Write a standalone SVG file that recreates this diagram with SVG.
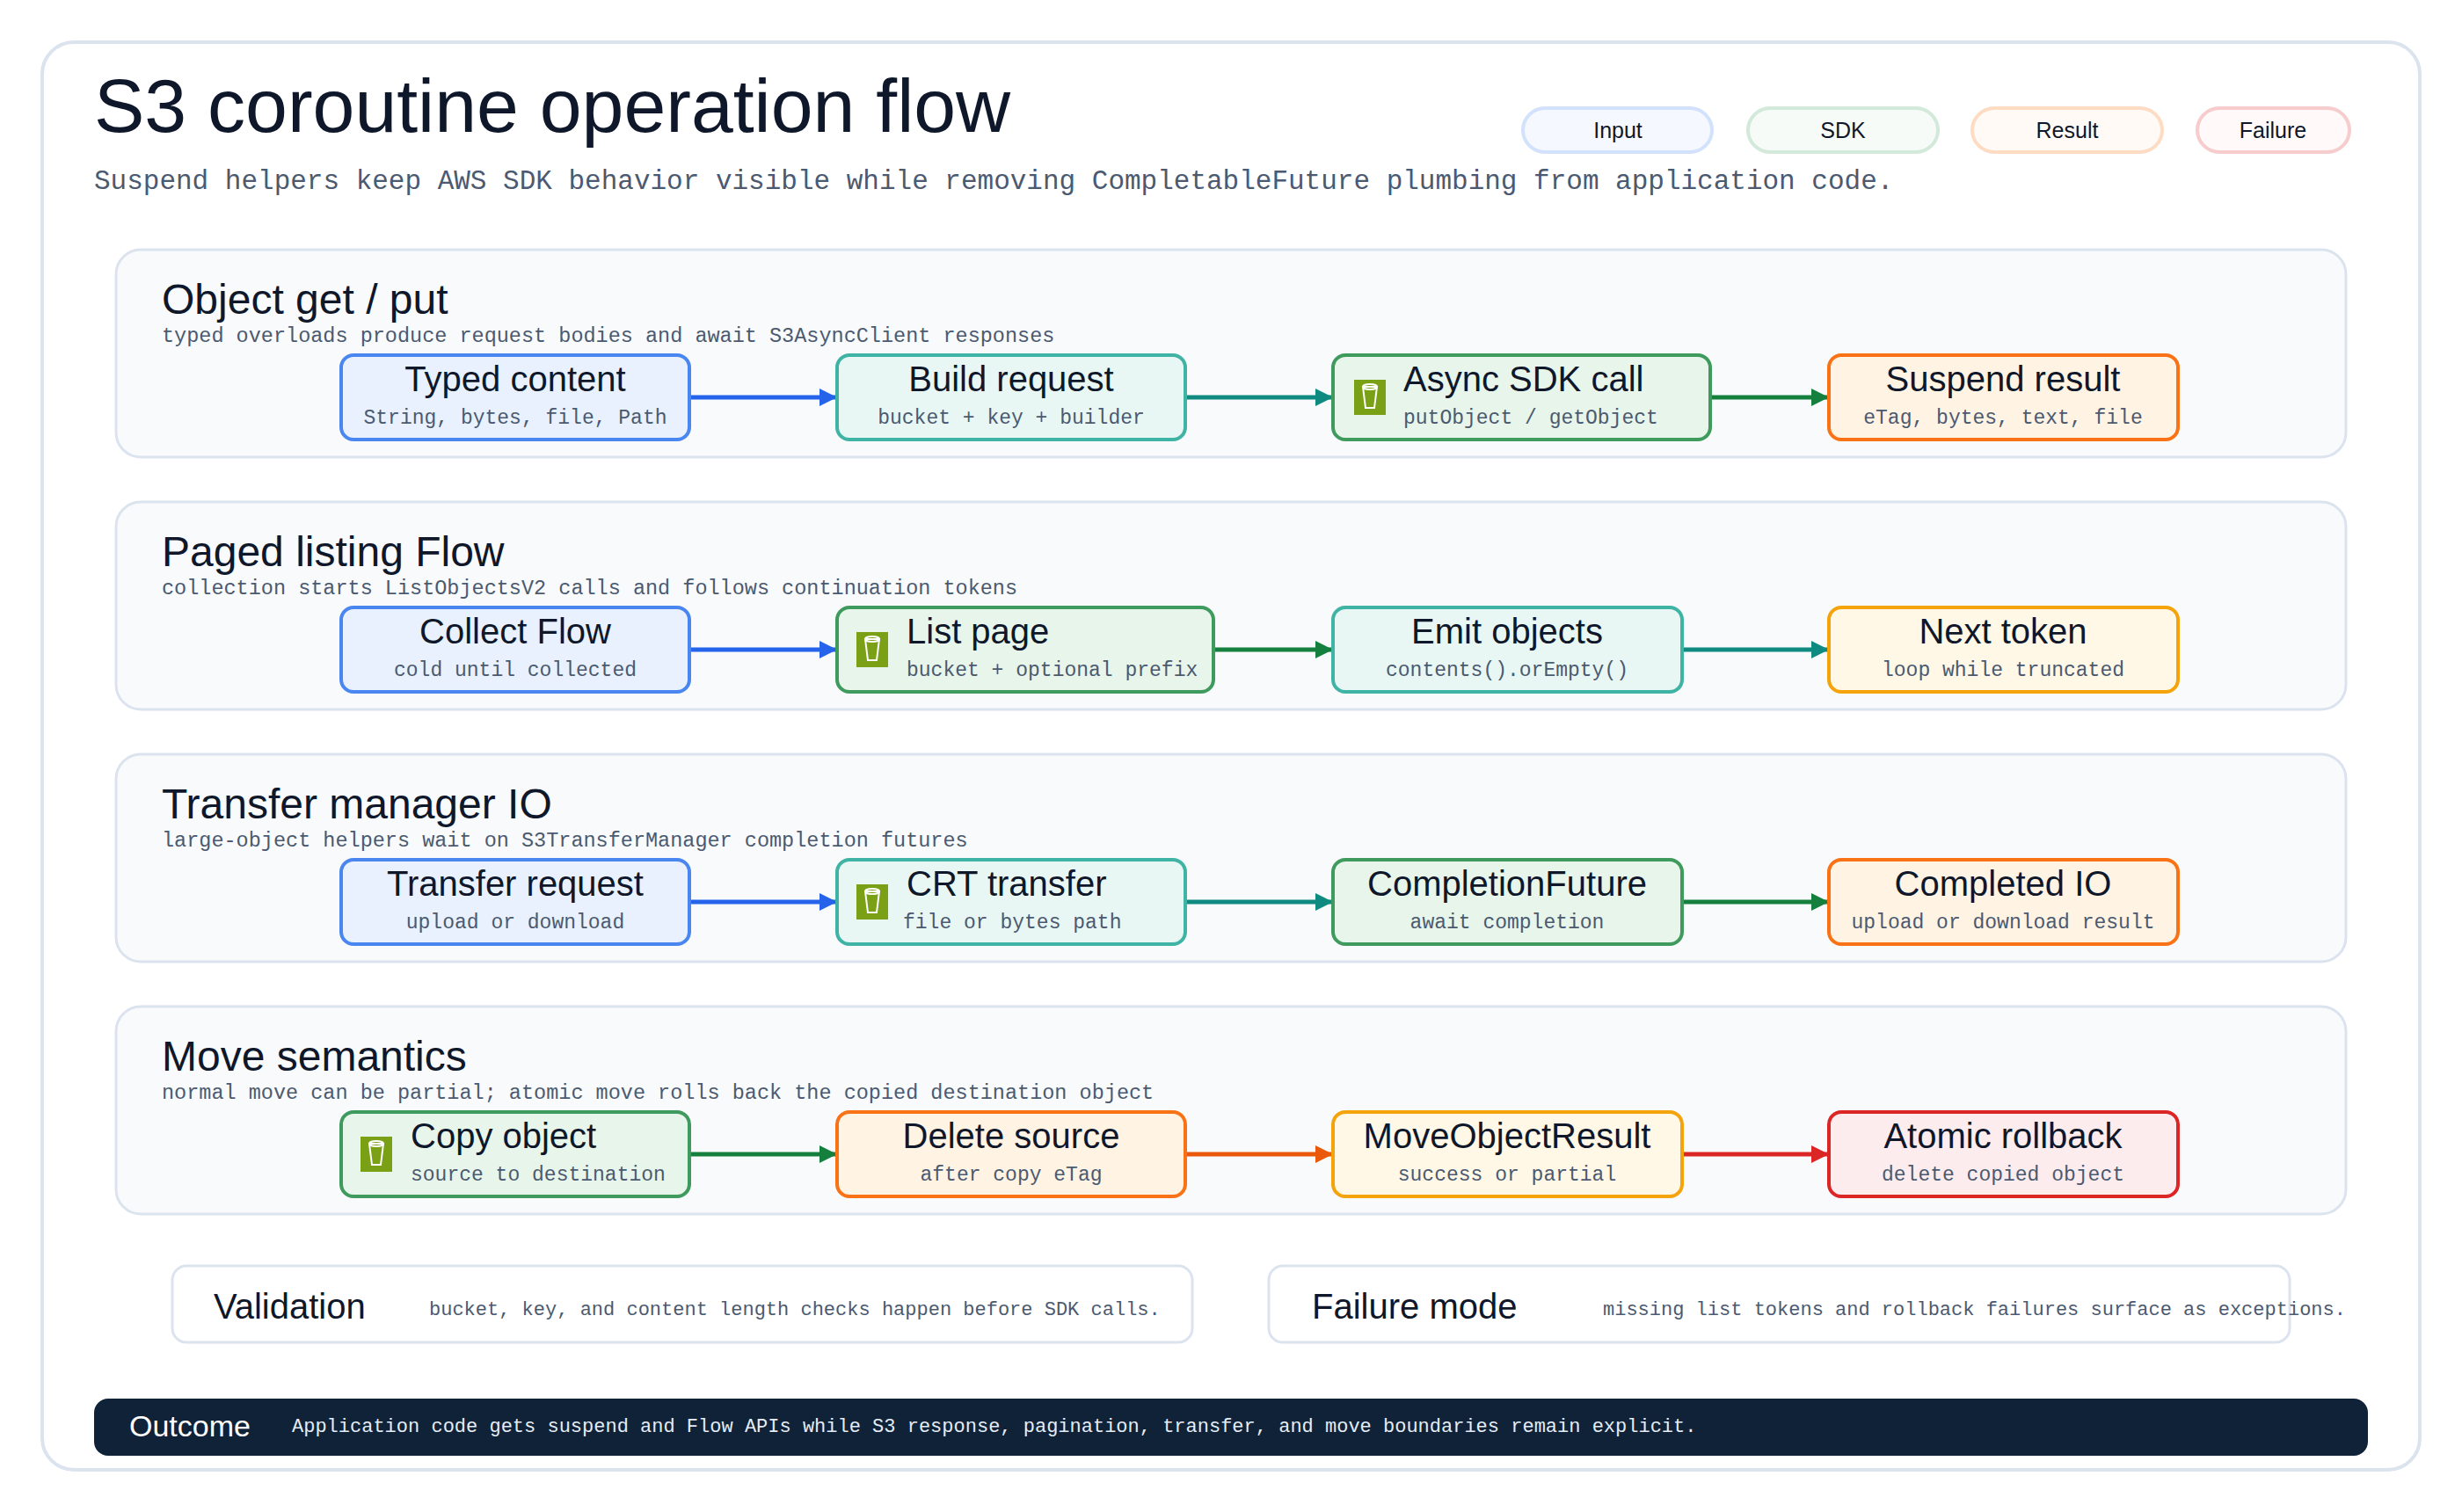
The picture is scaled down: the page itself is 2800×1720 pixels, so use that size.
<svg xmlns="http://www.w3.org/2000/svg" width="2800" height="1720" viewBox="0 0 2800 1720">
<defs>
<style>
.hand{font-family:"Liberation Sans","DejaVu Sans",sans-serif;fill:#0f172a}
.mono{font-family:"Liberation Mono","DejaVu Sans Mono",monospace;fill:#4b5a70}
.lane{fill:#f8fafc;stroke:#dbe3ee;stroke-width:3}
.nt{font-size:40px;text-anchor:middle}
.ns{font-size:23px;text-anchor:middle}
.b{fill:#e8f1fd;stroke:#4a86f0;stroke-width:4}
.t{fill:#e9f7f4;stroke:#3fb3a4;stroke-width:4}
.g{fill:#e8f5ea;stroke:#3f9a5e;stroke-width:4}
.o{fill:#fff3e4;stroke:#f97316;stroke-width:4}
.a{fill:#fff8e6;stroke:#f5a30b;stroke-width:4}
.r{fill:#fdecee;stroke:#dc2626;stroke-width:4}
.c{stroke-width:5;fill:none}
</style>
<marker id="mb" viewBox="0 0 10 10" refX="9" refY="5" markerWidth="4" markerHeight="4" orient="auto"><path d="M0,0L10,5L0,10z" fill="#2563eb"/></marker>
<marker id="mt" viewBox="0 0 10 10" refX="9" refY="5" markerWidth="4" markerHeight="4" orient="auto"><path d="M0,0L10,5L0,10z" fill="#0f8a80"/></marker>
<marker id="mg" viewBox="0 0 10 10" refX="9" refY="5" markerWidth="4" markerHeight="4" orient="auto"><path d="M0,0L10,5L0,10z" fill="#15803d"/></marker>
<marker id="mo" viewBox="0 0 10 10" refX="9" refY="5" markerWidth="4" markerHeight="4" orient="auto"><path d="M0,0L10,5L0,10z" fill="#ea580c"/></marker>
<marker id="mr" viewBox="0 0 10 10" refX="9" refY="5" markerWidth="4" markerHeight="4" orient="auto"><path d="M0,0L10,5L0,10z" fill="#dc2626"/></marker>
<g id="bucket"><rect x="0" y="-20" width="36" height="40" fill="#7aa116"/><path d="M10,-12h16l-3,24h-10z" fill="none" stroke="#fff" stroke-width="2"/><ellipse cx="18" cy="-12" rx="8" ry="3" fill="none" stroke="#fff" stroke-width="2"/></g>
</defs>
<rect width="2800" height="1720" fill="#fff"/>
<rect x="48" y="48" width="2704" height="1624" rx="36" fill="#fff" stroke="#dbe3ee" stroke-width="4"/>
<text x="107" y="150" class="hand" font-size="86">S3 coroutine operation flow</text>
<text x="107" y="215" class="mono" font-size="31">Suspend helpers keep AWS SDK behavior visible while removing CompletableFuture plumbing from application code.</text>
<g id="legend" font-family="Liberation Sans,sans-serif" font-size="25" text-anchor="middle" fill="#0f172a">
<rect x="1732" y="123" width="215" height="50" rx="25" fill="#f5f9ff" stroke="#d3e2fc" stroke-width="4"/><text x="1840" y="157">Input</text>
<rect x="1988" y="123" width="216" height="50" rx="25" fill="#f6fbf7" stroke="#d3e9da" stroke-width="4"/><text x="2096" y="157">SDK</text>
<rect x="2243" y="123" width="216" height="50" rx="25" fill="#fffaf5" stroke="#fddcc3" stroke-width="4"/><text x="2351" y="157">Result</text>
<rect x="2499" y="123" width="173" height="50" rx="25" fill="#fff9f9" stroke="#f6cccc" stroke-width="4"/><text x="2585" y="157">Failure</text>
</g>
<g id="lanes">
<rect class="lane" x="132" y="284" width="2536" height="236" rx="28"/>
<text x="184" y="357" class="hand" font-size="48">Object get / put</text>
<text x="184" y="389" class="mono" font-size="23.5">typed overloads produce request bodies and await S3AsyncClient responses</text>
<rect class="lane" x="132" y="571" width="2536" height="236" rx="28"/>
<text x="184" y="644" class="hand" font-size="48">Paged listing Flow</text>
<text x="184" y="676" class="mono" font-size="23.5">collection starts ListObjectsV2 calls and follows continuation tokens</text>
<rect class="lane" x="132" y="858" width="2536" height="236" rx="28"/>
<text x="184" y="931" class="hand" font-size="48">Transfer manager IO</text>
<text x="184" y="963" class="mono" font-size="23.5">large-object helpers wait on S3TransferManager completion futures</text>
<rect class="lane" x="132" y="1145" width="2536" height="236" rx="28"/>
<text x="184" y="1218" class="hand" font-size="48">Move semantics</text>
<text x="184" y="1250" class="mono" font-size="23.5">normal move can be partial; atomic move rolls back the copied destination object</text>
</g>
<g id="connectors">
<line class="c" stroke="#2563eb" marker-end="url(#mb)" x1="784" y1="452" x2="950" y2="452"/>
<line class="c" stroke="#0f8a80" marker-end="url(#mt)" x1="1348" y1="452" x2="1514" y2="452"/>
<line class="c" stroke="#15803d" marker-end="url(#mg)" x1="1945" y1="452" x2="2078" y2="452"/>
<line class="c" stroke="#2563eb" marker-end="url(#mb)" x1="784" y1="739" x2="950" y2="739"/>
<line class="c" stroke="#15803d" marker-end="url(#mg)" x1="1380" y1="739" x2="1514" y2="739"/>
<line class="c" stroke="#0f8a80" marker-end="url(#mt)" x1="1913" y1="739" x2="2078" y2="739"/>
<line class="c" stroke="#2563eb" marker-end="url(#mb)" x1="784" y1="1026" x2="950" y2="1026"/>
<line class="c" stroke="#0f8a80" marker-end="url(#mt)" x1="1348" y1="1026" x2="1514" y2="1026"/>
<line class="c" stroke="#15803d" marker-end="url(#mg)" x1="1913" y1="1026" x2="2078" y2="1026"/>
<line class="c" stroke="#15803d" marker-end="url(#mg)" x1="784" y1="1313" x2="950" y2="1313"/>
<line class="c" stroke="#ea580c" marker-end="url(#mo)" x1="1348" y1="1313" x2="1514" y2="1313"/>
<line class="c" stroke="#dc2626" marker-end="url(#mr)" x1="1913" y1="1313" x2="2078" y2="1313"/>
</g>
<g id="n1"><rect class="b" x="388" y="404" width="396" height="96" rx="14"/><text class="hand nt" x="586" y="445">Typed content</text><text class="mono ns" x="586" y="482">String, bytes, file, Path</text></g>
<g id="n2"><rect class="t" x="952" y="404" width="396" height="96" rx="14"/><text class="hand nt" x="1150" y="445">Build request</text><text class="mono ns" x="1150" y="482">bucket + key + builder</text></g>
<g id="n3"><rect class="g" x="1516" y="404" width="429" height="96" rx="14"/><use href="#bucket" x="1540" y="452"/><text class="hand" font-size="40" x="1596" y="445">Async SDK call</text><text class="mono" font-size="23" x="1596" y="482">putObject / getObject</text></g>
<g id="n4"><rect class="o" x="2080" y="404" width="397" height="96" rx="14"/><text class="hand nt" x="2278" y="445">Suspend result</text><text class="mono ns" x="2278" y="482">eTag, bytes, text, file</text></g>
<g id="n5"><rect class="b" x="388" y="691" width="396" height="96" rx="14"/><text class="hand nt" x="586" y="732">Collect Flow</text><text class="mono ns" x="586" y="769">cold until collected</text></g>
<g id="n6"><rect class="g" x="952" y="691" width="428" height="96" rx="14"/><use href="#bucket" x="974" y="739"/><text class="hand" font-size="40" x="1031" y="732">List page</text><text class="mono" font-size="23" x="1031" y="769">bucket + optional prefix</text></g>
<g id="n7"><rect class="t" x="1516" y="691" width="397" height="96" rx="14"/><text class="hand nt" x="1714" y="732">Emit objects</text><text class="mono ns" x="1714" y="769">contents().orEmpty()</text></g>
<g id="n8"><rect class="a" x="2080" y="691" width="397" height="96" rx="14"/><text class="hand nt" x="2278" y="732">Next token</text><text class="mono ns" x="2278" y="769">loop while truncated</text></g>
<g id="n9"><rect class="b" x="388" y="978" width="396" height="96" rx="14"/><text class="hand nt" x="586" y="1019">Transfer request</text><text class="mono ns" x="586" y="1056">upload or download</text></g>
<g id="n10"><rect class="t" x="952" y="978" width="396" height="96" rx="14"/><use href="#bucket" x="974" y="1026"/><text class="hand" font-size="40" x="1031" y="1019">CRT transfer</text><text class="mono" font-size="23" x="1027" y="1056">file or bytes path</text></g>
<g id="n11"><rect class="g" x="1516" y="978" width="397" height="96" rx="14"/><text class="hand nt" x="1714" y="1019">CompletionFuture</text><text class="mono ns" x="1714" y="1056">await completion</text></g>
<g id="n12"><rect class="o" x="2080" y="978" width="397" height="96" rx="14"/><text class="hand nt" x="2278" y="1019">Completed IO</text><text class="mono ns" x="2278" y="1056">upload or download result</text></g>
<g id="n13"><rect class="g" x="388" y="1265" width="396" height="96" rx="14"/><use href="#bucket" x="410" y="1313"/><text class="hand" font-size="40" x="467" y="1306">Copy object</text><text class="mono" font-size="23" x="467" y="1343">source to destination</text></g>
<g id="n14"><rect class="o" x="952" y="1265" width="396" height="96" rx="14"/><text class="hand nt" x="1150" y="1306">Delete source</text><text class="mono ns" x="1150" y="1343">after copy eTag</text></g>
<g id="n15"><rect class="a" x="1516" y="1265" width="397" height="96" rx="14"/><text class="hand nt" x="1714" y="1306">MoveObjectResult</text><text class="mono ns" x="1714" y="1343">success or partial</text></g>
<g id="n16"><rect class="r" x="2080" y="1265" width="397" height="96" rx="14"/><text class="hand nt" x="2278" y="1306">Atomic rollback</text><text class="mono ns" x="2278" y="1343">delete copied object</text></g>
<g id="validation"><rect x="196" y="1440" width="1160" height="87" rx="16" fill="#fff" stroke="#dbe3ee" stroke-width="3"/><text x="243" y="1500" class="hand" font-size="40">Validation</text><text x="488" y="1496" class="mono" font-size="22">bucket, key, and content length checks happen before SDK calls.</text></g>
<g id="failure"><rect x="1443" y="1440" width="1161" height="87" rx="16" fill="#fff" stroke="#dbe3ee" stroke-width="3"/><text x="1492" y="1500" class="hand" font-size="40">Failure mode</text><text x="1823" y="1496" class="mono" font-size="22">missing list tokens and rollback failures surface as exceptions.</text></g>
<g id="outcome"><rect x="107" y="1591" width="2586" height="65" rx="16" fill="#0f2238"/><text x="147" y="1634" font-family="Liberation Sans,sans-serif" font-size="34" fill="#fff">Outcome</text><text x="332" y="1629" font-family="Liberation Mono,monospace" font-size="22" fill="#e5ecf5">Application code gets suspend and Flow APIs while S3 response, pagination, transfer, and move boundaries remain explicit.</text></g>
</svg>
